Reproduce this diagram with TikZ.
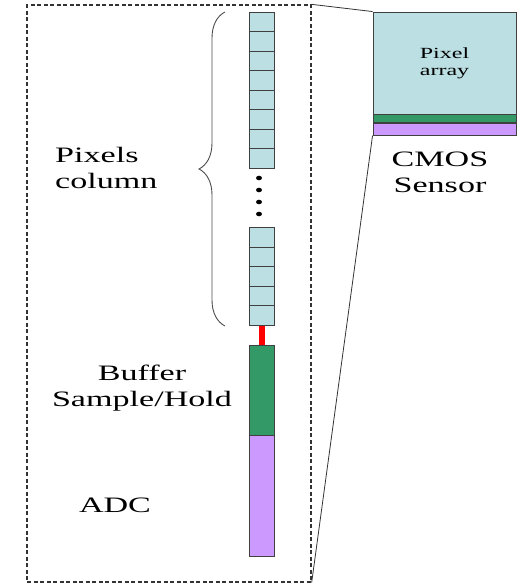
\documentclass[tikz,border=0pt]{standalone}
\usepackage{fontspec}
\setmainfont{Liberation Serif}[FakeStretch=1.55]
\usepackage{tikz}
\usetikzlibrary{positioning,decorations.pathreplacing}

\definecolor{pixblue}{HTML}{BBDFE2}
\definecolor{bufgreen}{HTML}{339966}
\definecolor{adcpurple}{HTML}{CC99FF}

\begin{document}
\begin{tikzpicture}[
      x=1pt, y=-1pt,
      font=\fontsize{22}{26}\selectfont,
      cell/.style={draw=black!75, line width=0.9pt, fill=pixblue,
                   minimum width=25pt, minimum height=19.5pt, inner sep=0pt},
      blk/.style={draw=black!75, line width=0.9pt, minimum width=25pt,
                  inner sep=0pt},
      lbl/.style={align=center, inner sep=0pt},
      zoomline/.style={draw=black!80, line width=0.8pt}
    ]
    \useasboundingbox (0,0) rectangle (520,584);

    % dashed frame round one column
    \node[draw=black!80, dashed, dash pattern=on 4pt off 2.5pt, line width=1.3pt,
          minimum width=284pt, minimum height=577pt, inner sep=0pt]
      (frame) at (169,293.5) {};

    % upper pixels
    \foreach \i in {1,...,8} {
      \node[cell] (c\i) at (261.5,{12.3+19.5*(\i-0.5)}) {};
    }
    % dots
    \foreach \y in {178,190,202,214} {
      \fill (259,\y) ellipse [x radius=3, y radius=2.3];
    }
    % lower pixels
    \foreach \i in {1,...,5} {
      \node[cell] (d\i) at (261.5,{227.7+19.5*(\i-0.5)}) {};
    }

    % brace
    \draw[black!70, line width=0.9pt, decorate,
          decoration={brace, amplitude=26pt}] (225,326) -- (225,12);
    \node[lbl, align=left, anchor=west] (pixlbl) at (55,168) {Pixels\\column};

    % buffer and ADC
    \node[blk, fill=bufgreen, minimum height=90pt] (buf) at (261.5,390) {};
    \node[blk, fill=adcpurple, minimum height=121pt] (adc) at (261.5,495.5) {};
    \draw[red, line width=6pt] (d5.south) -- (buf.north);
    \node[lbl] (buflbl) at (142,388) {Buffer\\Sample/Hold};
    \node[lbl] (adclbl) at (115,505) {ADC};

    % CMOS sensor
    \node[blk, fill=pixblue, minimum width=143pt, minimum height=102pt,
          font=\fontsize{15.5}{17}\selectfont, align=center]
      (pixarr) at (444.5,63) {Pixel\\array};
    \node[blk, fill=bufgreen, minimum width=143pt, minimum height=7.7pt,
          below=0pt of pixarr] (snsbuf) {};
    \node[blk, fill=adcpurple, minimum width=143pt, minimum height=11.6pt,
          below=0pt of snsbuf] (snsadc) {};
    \node[lbl] (cmoslbl) at (440,172) {CMOS\\Sensor};

    % zoom lines
    \draw[zoomline] (frame.north east) -- (pixarr.north west);
    \draw[zoomline] (snsadc.south west) -- (frame.south east);
  \end{tikzpicture}
\end{document}
